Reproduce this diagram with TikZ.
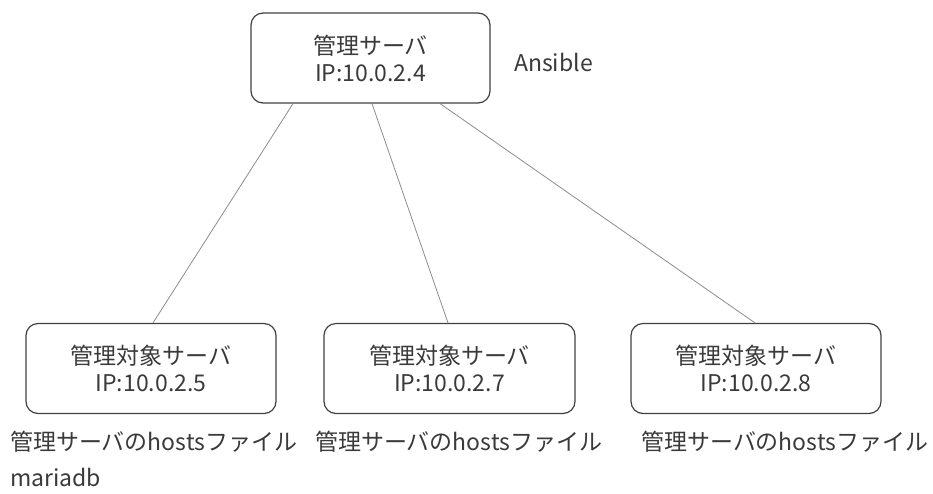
\documentclass[tikz,border=0pt]{standalone}
\usepackage{fontspec}
\setmainfont{Noto Sans CJK JP}
\usetikzlibrary{calc}
\definecolor{txt}{HTML}{3A3A3A}
\definecolor{boxline}{HTML}{404040}
\definecolor{wire}{HTML}{8C8C8C}
\begin{document}
\begin{tikzpicture}[x=1pt,y=-1pt,
  server/.style={draw=boxline,line width=1.2pt,rounded corners=12pt,minimum height=90pt,
    align=center,text=txt,font=\fontsize{23}{27}\selectfont,inner sep=0pt},
  wirestyle/.style={draw=wire,line width=0.8pt},
  lbl/.style={text=txt,font=\fontsize{23}{27}\selectfont,inner sep=0pt}]
\useasboundingbox (0,0) rectangle (933,493);
\node[server,minimum width=239pt] (top) at (370.5,58) {管理サーバ\\IP:10.0.2.4};
\node[lbl,anchor=west] (ans) at (514,62) {Ansible};
\node[server,minimum width=250pt] (b1) at (151,368.5) {管理対象サーバ\\IP:10.0.2.5};
\node[server,minimum width=251pt] (b2) at (449.5,368.5) {管理対象サーバ\\IP:10.0.2.7};
\node[server,minimum width=250pt] (b3) at (756,368.5) {管理対象サーバ\\IP:10.0.2.8};
\node[lbl,anchor=west] (h1) at (10,442) {管理サーバのhostsファイル};
\node[lbl,anchor=west] (h2) at (315,442) {管理サーバのhostsファイル};
\node[lbl,anchor=west] (h3) at (641,442) {管理サーバのhostsファイル};
\node[lbl,anchor=base west] (m) at (10,486) {mariadb};
\draw[wirestyle] ($(top.south)+(-77.5,0)$) -- ($(b1.north)+(2,0)$);
\draw[wirestyle] ($(top.south)+(1.5,0)$) -- ($(b2.north)+(-1.5,0)$);
\draw[wirestyle] ($(top.south)+(69.5,0)$) -- ($(b3.north)+(-1,0)$);
\end{tikzpicture}
\end{document}
